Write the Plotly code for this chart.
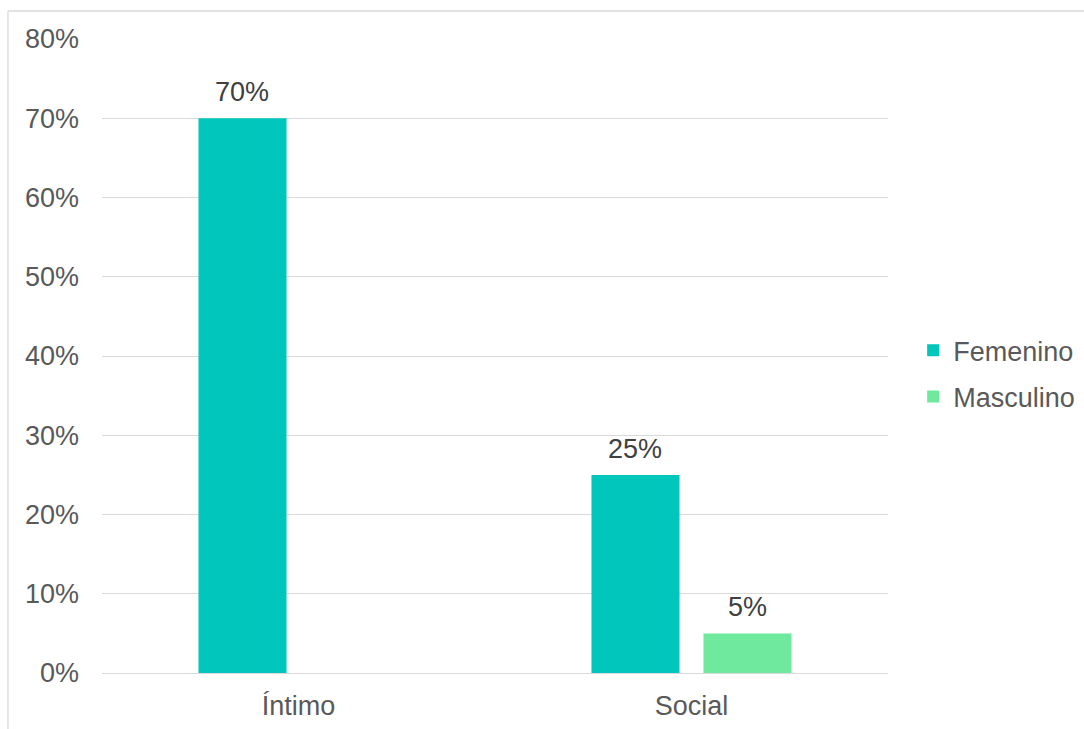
import plotly.graph_objects as go

categories = ["Íntimo", "Social"]
femenino = [0.70, 0.25]
masculino = [0.0, 0.05]
series_names = ["Femenino", "Masculino"]
colors = ["#00C6BB", "#6EE99E"]
y_ticks = [0, 0.1, 0.2, 0.3, 0.4, 0.5, 0.6, 0.7, 0.8]
y_tick_labels = ["0%", "10%", "20%", "30%", "40%", "50%", "60%", "70%", "80%"]

font_family = "Liberation Sans, Arial, sans-serif"
fs = 27

fig = go.Figure()
for name, vals, col in zip(series_names, [femenino, masculino], colors):
    fig.add_trace(go.Bar(
        x=categories, y=vals, name=name,
        marker=dict(color=col, line=dict(width=0)),
        offsetgroup=name, legendgroup=name,
    ))

# value labels above the non-zero bars
offsets = {"Femenino": -0.143, "Masculino": 0.143}
for name, vals in zip(series_names, [femenino, masculino]):
    for i, v in enumerate(vals):
        if v > 0:
            fig.add_annotation(
                x=i + offsets[name], y=v, xref="x", yref="y",
                text=f"{round(v * 100)}%", showarrow=False,
                yanchor="bottom", yshift=9,
                font=dict(family=font_family, size=fs, color="#404040"),
            )

# outer chart frame (top and left edges)
fig.add_shape(type="line", xref="paper", yref="paper",
              x0=-0.1196, x1=1.3, y0=1.0442, y1=1.0442,
              line=dict(color="#D9D9D9", width=1.3))
fig.add_shape(type="line", xref="paper", yref="paper",
              x0=-0.1196, x1=-0.1196, y0=-0.2, y1=1.0442,
              line=dict(color="#D9D9D9", width=1.3))

fig.update_layout(
    width=1084, height=729,
    margin=dict(l=102, r=196, t=39, b=56, autoexpand=False),
    paper_bgcolor="white", plot_bgcolor="white",
    barmode="group", bargap=0.43, bargroupgap=0.214,
    font=dict(family=font_family, size=fs, color="#595959"),
    legend=dict(
        x=1.032, y=0.472, xanchor="left", yanchor="middle",
        font=dict(family=font_family, size=fs, color="#595959"),
        tracegroupgap=8, itemwidth=30,
    ),
    xaxis=dict(
        type="category", showgrid=False, showline=True,
        linecolor="#D9D9D9", linewidth=1.3, ticks="",
        ticklabelstandoff=8, automargin=False,
        tickfont=dict(family=font_family, size=fs, color="#595959"),
    ),
    yaxis=dict(
        range=[0, 0.8], tickvals=y_ticks, ticktext=y_tick_labels,
        showgrid=True, gridcolor="#D9D9D9", gridwidth=1.3,
        zeroline=False, showline=False, ticks="",
        ticklabelstandoff=22, automargin=False,
        tickfont=dict(family=font_family, size=fs, color="#595959"),
    ),
)

fig.write_html("out.html")
